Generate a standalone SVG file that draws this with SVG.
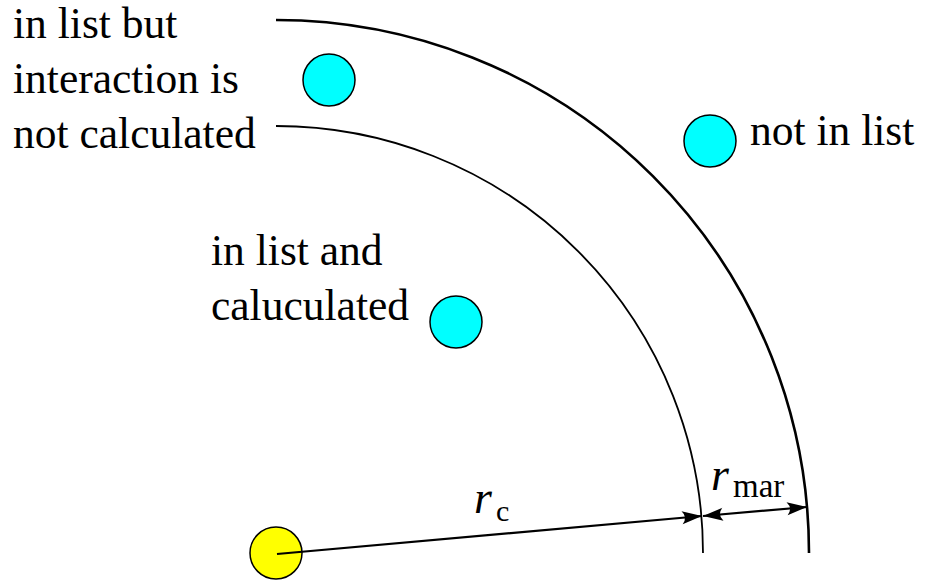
<svg xmlns="http://www.w3.org/2000/svg" width="925" height="580" viewBox="0 0 925 580">
<style>
.lbl{font-family:"Liberation Serif","Times New Roman",serif;font-size:43.5px;fill:#000}
.mi{font-family:"Liberation Serif","Times New Roman",serif;font-style:italic;font-size:46px;fill:#000}
.sub{font-family:"Liberation Serif","Times New Roman",serif;font-size:30px;fill:#000}
.particle{fill:#00ffff;stroke:#000;stroke-width:1.5}
.center{fill:#ffff00;stroke:#000;stroke-width:1.5}
.arc{fill:none;stroke:#000}
.dim{fill:none;stroke:#000;stroke-width:2.2}
</style>
<defs>
<marker id="ah" markerUnits="userSpaceOnUse" markerWidth="24" markerHeight="16" viewBox="-22 -8 24 16" refX="0" refY="0" orient="auto-start-reverse">
<path d="M0,0 L-20,-6.5 Q-14,0 -20,6.5 Z" fill="#000"/>
</marker>
</defs>
<rect width="925" height="580" fill="#fff"/>
<g id="boundaries">
<path id="cutoff-arc" class="arc" stroke-width="1.8" d="M276,126 A427,427 0 0 1 703,553"/>
<path id="margin-arc" class="arc" stroke-width="2.6" d="M276,20 A533,533 0 0 1 809,553"/>
</g>
<g id="center-particle"><circle class="center" cx="276" cy="553" r="26"/></g>
<g id="particle-margin"><circle class="particle" cx="329" cy="80" r="26"/></g>
<g id="particle-outside"><circle class="particle" cx="710" cy="141" r="26"/></g>
<g id="particle-inside"><circle class="particle" cx="456" cy="322" r="26"/></g>
<g id="connectors">
<line class="dim" x1="277" y1="554" x2="702" y2="516" marker-end="url(#ah)"/>
<line class="dim" x1="703" y1="516" x2="807" y2="507" marker-start="url(#ah)" marker-end="url(#ah)"/>
</g>
<g id="labels">
<text class="lbl" x="13" y="38">in list but</text>
<text class="lbl" x="13" y="93">interaction is</text>
<text class="lbl" x="13" y="148">not calculated</text>
<text class="lbl" x="750" y="145">not in list</text>
<text class="lbl" x="211" y="265">in list and</text>
<text class="lbl" x="211" y="320">caluculated</text>
<text class="mi" x="474" y="513">r</text>
<text class="sub" x="496" y="521">c</text>
<text class="mi" x="711" y="490">r</text>
<text class="sub" x="733" y="497" style="font-size:33px">mar</text>
</g>
</svg>
